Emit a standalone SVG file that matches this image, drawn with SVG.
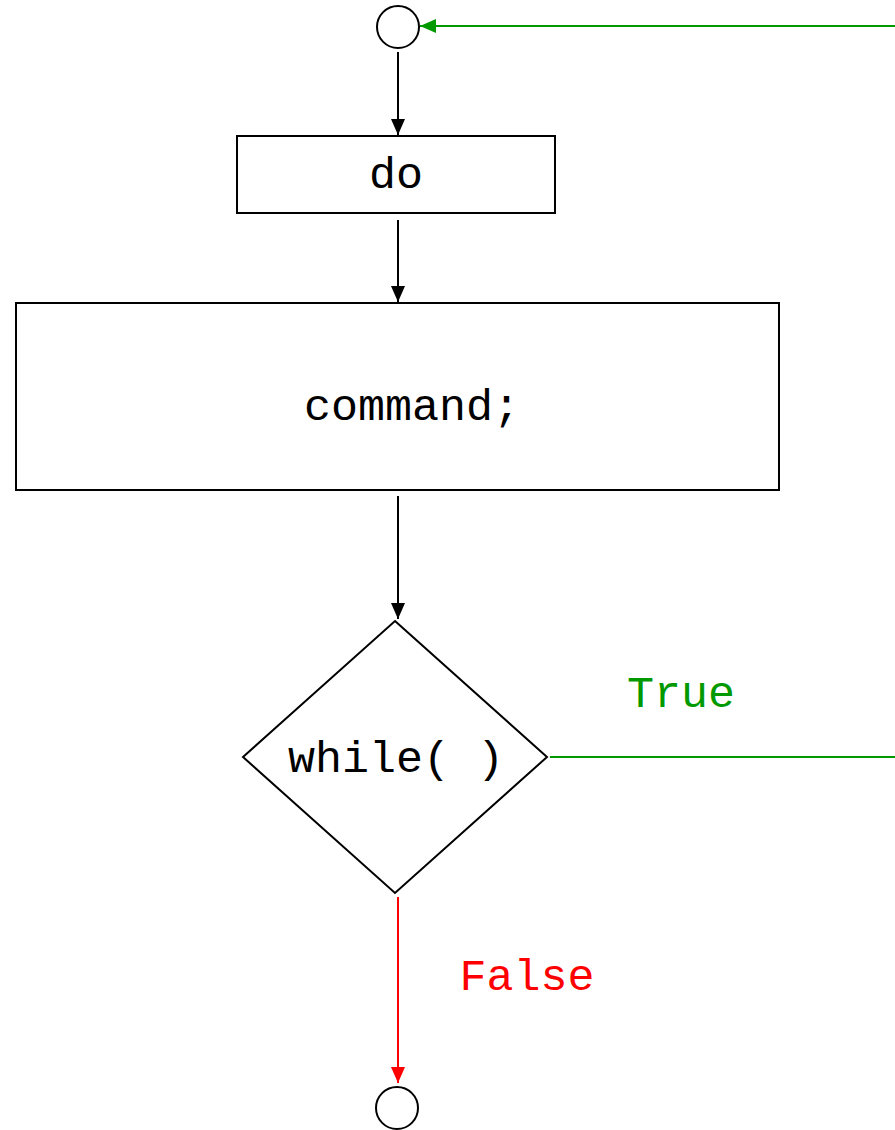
<svg xmlns="http://www.w3.org/2000/svg" width="895" height="1130" viewBox="0 0 895 1130">
<style>
.n{fill:#fff;stroke:#000;stroke-width:2}
.t{font-family:"Liberation Mono",monospace;font-size:45px;text-anchor:middle}
.k{stroke:#000;stroke-width:2;fill:none}
.g{stroke:#009900;stroke-width:2;fill:none}
.r{stroke:#ff0000;stroke-width:2;fill:none}
</style>
<defs>
<marker id="ak" markerWidth="16" markerHeight="14" refX="16" refY="7" orient="auto" markerUnits="userSpaceOnUse" viewBox="0 0 16 14"><path d="M0,0 L16,7 L0,14 z" fill="#000"/></marker>
<marker id="ag" markerWidth="16" markerHeight="14" refX="16" refY="7" orient="auto" markerUnits="userSpaceOnUse" viewBox="0 0 16 14"><path d="M0,0 L16,7 L0,14 z" fill="#009900"/></marker>
<marker id="ar" markerWidth="16" markerHeight="14" refX="16" refY="7" orient="auto" markerUnits="userSpaceOnUse" viewBox="0 0 16 14"><path d="M0,0 L16,7 L0,14 z" fill="#ff0000"/></marker>
</defs>
<g id="connectors">
<line class="g" x1="895" y1="26" x2="420" y2="26" marker-end="url(#ag)"/>
<line class="k" x1="398" y1="52" x2="398" y2="135" marker-end="url(#ak)"/>
<line class="k" x1="398" y1="220" x2="398" y2="302" marker-end="url(#ak)"/>
<line class="k" x1="398" y1="496" x2="398" y2="619" marker-end="url(#ak)"/>
<line class="g" x1="550" y1="757" x2="895" y2="757"/>
<line class="r" x1="398" y1="897" x2="398" y2="1083" marker-end="url(#ar)"/>
<text class="t" x="681" y="707" fill="#009900">True</text>
<text class="t" x="527" y="990" fill="#ff0000">False</text>
</g>
<g id="start"><circle class="n" cx="398" cy="27" r="21"/></g>
<g id="do"><rect class="n" x="237" y="136" width="318" height="77"/><text class="t" x="396" y="188">do</text></g>
<g id="command"><rect class="n" x="16" y="303" width="763" height="187"/><text class="t" x="412" y="420">command;</text></g>
<g id="while"><polygon class="n" points="395,621 547,757 395,893 243,757"/><text class="t" x="396" y="772">while( )</text></g>
<g id="end"><circle class="n" cx="397" cy="1108" r="21"/></g>
</svg>
